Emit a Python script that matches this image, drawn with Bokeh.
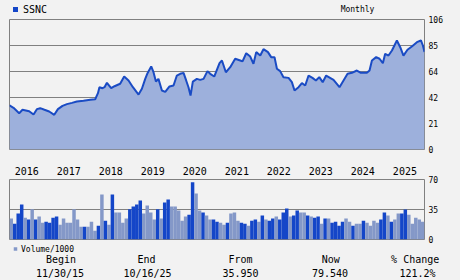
import pandas as pd
from bokeh.plotting import figure
from bokeh.layouts import column
from bokeh.models import Range1d, FixedTicker
from bokeh.core.properties import value
from bokeh.embed import file_html
from bokeh.resources import INLINE

symbol = "SSNC"
period = "Monthly"
begin_date = "2015-11-30"
end_date = "2025-10-16"

price_dates = [
    "2015-11-30", "2016-01-04", "2016-02-22", "2016-03-22", "2016-05-19", "2016-06-26",
    "2016-07-25", "2016-08-23", "2016-09-29", "2016-11-09", "2016-12-23", "2017-01-24",
    "2017-03-05", "2017-04-12", "2017-05-26", "2017-07-08", "2017-09-03", "2017-11-01",
    "2017-12-14", "2018-01-07", "2018-01-20", "2018-02-16", "2018-03-05", "2018-03-26",
    "2018-05-02", "2018-05-31", "2018-07-19", "2018-08-23", "2018-09-30", "2018-11-07",
    "2018-12-26", "2019-01-24", "2019-02-22", "2019-03-14", "2019-04-15", "2019-05-05",
    "2019-05-26", "2019-06-17", "2019-07-17", "2019-08-15", "2019-09-21", "2019-10-26",
    "2019-11-24", "2019-12-23", "2020-01-21", "2020-02-13", "2020-03-04", "2020-03-22",
    "2020-04-11", "2020-05-16", "2020-06-14", "2020-07-13", "2020-08-16", "2020-09-09",
    "2020-10-14", "2020-11-06", "2020-11-29", "2020-12-20", "2021-01-23", "2021-03-02",
    "2021-04-14", "2021-05-28", "2021-06-17", "2021-07-19", "2021-08-23", "2021-09-20",
    "2021-10-14", "2021-11-18", "2021-12-16", "2022-01-24", "2022-02-21", "2022-03-22",
    "2022-04-12", "2022-05-10", "2022-06-08", "2022-07-22", "2022-08-20", "2022-09-12",
    "2022-10-17", "2022-11-15", "2022-12-14", "2023-01-12", "2023-02-15", "2023-03-17",
    "2023-04-15", "2023-05-15", "2023-06-14", "2023-08-17", "2023-10-08", "2023-11-12",
    "2023-12-17", "2024-01-24", "2024-03-07", "2024-04-11", "2024-06-02", "2024-06-25",
    "2024-07-16", "2024-08-22", "2024-09-20", "2024-10-19", "2024-11-08", "2024-12-07",
    "2025-01-06", "2025-02-18", "2025-03-19", "2025-04-16", "2025-05-21", "2025-06-28",
    "2025-08-11", "2025-09-15", "2025-10-02", "2025-10-16",
]
price_values = [
    35.95, 34.0, 29.6, 32.4, 31.2, 28.5,
    32.9, 33.7, 32.4, 31.0, 28.3, 32.9,
    35.6, 37.0, 38.0, 39.1, 39.7, 40.5,
    41.0, 45.9, 50.8, 50.0, 50.8, 54.4,
    50.0, 51.6, 53.6, 59.5, 56.3, 50.8,
    44.8, 49.5, 57.6, 62.2, 67.7, 63.0,
    55.4, 57.6, 48.1, 47.0, 51.4, 52.2,
    60.3, 61.7, 62.5, 56.3, 50.8, 44.0,
    55.4, 57.6, 56.8, 57.6, 63.9, 61.7,
    59.5, 65.0, 70.4, 72.6, 63.0, 67.1,
    74.0, 72.6, 71.8, 78.5, 75.8, 69.9,
    79.4, 76.6, 81.8, 79.4, 75.3, 75.3,
    65.8, 63.9, 59.0, 58.4, 54.9, 48.1,
    50.8, 54.1, 52.2, 60.3, 58.4, 56.3,
    59.0, 54.9, 60.3, 56.8, 50.8, 56.3,
    61.7, 62.5, 64.4, 62.5, 62.5, 64.4,
    72.6, 75.3, 74.0, 70.4, 78.0, 76.6,
    80.7, 88.9, 83.4, 76.6, 81.3, 84.0,
    87.5, 88.9, 84.8, 79.54,
]

# monthly volume (thousands) and whether the bar is drawn dark (up) or light
volume_k = [
    24.4, 18.5, 30.2, 40.9, 25.5, 23.2, 35.4, 23.2, 26.7, 19.6,
    20.8, 19.6, 25.5, 26.7, 17.3, 24.4, 19.6, 19.6, 35.4, 23.2,
    14.9, 14.9, 14.9, 20.8, 10.2, 16.1, 52.6, 22.0, 17.3, 52.6,
    31.4, 31.4, 19.6, 24.4, 35.4, 38.5, 40.9, 45.6, 30.2, 39.7,
    31.4, 23.2, 35.4, 24.4, 43.2, 46.7, 38.5, 38.5, 33.8, 22.0,
    26.7, 29.0, 66.8, 53.8, 33.8, 31.4, 27.9, 23.2, 23.2, 20.8,
    19.6, 17.3, 19.6, 30.2, 31.4, 22.0, 19.6, 18.5, 16.1, 22.0,
    23.2, 20.8, 27.9, 23.2, 22.0, 24.4, 26.7, 23.2, 31.4, 36.1,
    26.7, 27.9, 33.8, 31.4, 31.4, 27.9, 26.7, 25.5, 26.7, 18.5,
    24.4, 24.4, 19.6, 20.8, 16.1, 20.8, 24.4, 20.8, 16.1, 18.5,
    18.5, 22.0, 19.6, 16.1, 22.0, 19.6, 23.2, 31.4, 27.9, 20.8,
    23.2, 30.2, 30.2, 35.0, 29.0, 18.5, 25.5, 23.2, 20.8,
]
volume_up = [
    0, 1, 1, 1, 0, 1, 0, 1, 0, 0,
    1, 1, 1, 1, 0, 0, 0, 0, 0, 0,
    0, 1, 0, 0, 0, 1, 0, 1, 0, 1,
    0, 0, 0, 0, 1, 1, 1, 1, 0, 0,
    0, 0, 1, 0, 1, 1, 0, 0, 0, 0,
    0, 1, 1, 0, 0, 1, 0, 0, 1, 1,
    0, 0, 1, 0, 0, 0, 1, 1, 0, 1,
    1, 0, 1, 0, 1, 1, 0, 1, 1, 1,
    0, 1, 1, 0, 0, 1, 0, 1, 1, 0,
    1, 0, 1, 1, 1, 1, 0, 0, 1, 0,
    0, 1, 0, 0, 0, 0, 1, 1, 0, 1,
    0, 0, 1, 1, 0, 0, 0, 0, 0,
]

price_ticks = [0, 21, 42, 64, 85, 106]
volume_ticks = [0, 35, 70]
year_labels = ["2016", "2017", "2018", "2019", "2020", "2021", "2022", "2023", "2024", "2025"]

footer_heads = ["Begin", "End", "From", "Now", "% Change"]
footer_values = ["11/30/15", "10/16/25", "35.950", "79.540", "121.2%"]

# ---- styling ----
BG = "#f2f2f2"
GRID = "#808080"
LINE = "#1a4bc4"
AREA = "#9db0dc"
DARK = "#1446c8"
LIGHT = "#8498c8"
MONO = "DejaVu Sans Mono"
W = 460


def ms(d):
    return pd.Timestamp(d).value / 1e6


x0, x1 = ms(begin_date), ms(end_date)
date_range = Range1d(x0, x1)


def strip(h):
    """A text-only band whose frame fills the band (pixel-like local coords)."""
    f = figure(width=W, height=h, x_axis_type=None, y_axis_type=None,
               x_range=Range1d(0, W), y_range=Range1d(h, 0),
               output_backend="svg", toolbar_location=None,
               min_border=0, min_border_left=0, min_border_right=0,
               min_border_top=0, min_border_bottom=0)
    f.frame_align = False
    f.background_fill_color = BG
    f.border_fill_color = BG
    f.outline_line_color = None
    return f


def style(p, ticks, grid_ticks):
    p.background_fill_color = BG
    p.border_fill_color = BG
    p.outline_line_color = GRID
    p.outline_line_width = 1
    ax = p.yaxis[0]
    ax.ticker = FixedTicker(ticks=ticks)
    ax.axis_line_color = None
    ax.major_tick_line_color = None
    ax.minor_tick_line_color = None
    ax.major_tick_out = 0
    ax.major_tick_in = 0
    ax.major_label_standoff = 4
    ax.major_label_text_font = MONO
    ax.major_label_text_font_size = "8px"
    ax.major_label_text_color = "#000000"
    p.ygrid.ticker = FixedTicker(ticks=grid_ticks)
    p.ygrid.grid_line_color = GRID
    p.ygrid.grid_line_width = 1


# ---- header band (legend + period) ----
head = strip(14)
head.rect(x=[15], y=[9], width=5, height=5, fill_color=DARK, line_color=None)
head.text(x=[22.5], y=[8.5], text=[symbol], text_font=value(MONO), text_font_size="10px",
          text_color="#000000", text_align="left", text_baseline="middle")
head.text(x=[357], y=[9], text=[period], text_font=value(MONO), text_font_size="8px",
          text_color="#000000", text_align="center", text_baseline="middle")

# ---- price panel ----
p1 = figure(width=W, height=141, x_axis_type=None, y_axis_location="right",
            x_range=date_range, y_range=Range1d(0, 106),
            output_backend="svg", toolbar_location=None,
            min_border_left=9, min_border_right=36, min_border_top=5, min_border_bottom=6)
dts = pd.to_datetime(price_dates)
p1.varea(x=dts, y1=0, y2=price_values, fill_color=AREA, fill_alpha=1)
p1.line(x=dts, y=price_values, line_color=LINE, line_width=2)
style(p1, price_ticks, price_ticks[1:-1])

# ---- year labels band ----
years = figure(width=W, height=20, x_axis_type=None, y_axis_type=None,
               x_range=date_range, y_range=Range1d(20, 0),
               output_backend="svg", toolbar_location=None,
               min_border_left=9, min_border_right=36, min_border_top=0, min_border_bottom=0)
years.background_fill_color = BG
years.border_fill_color = BG
years.outline_line_color = None
years.text(x=pd.to_datetime([f"{y}-01-01" for y in year_labels]), y=[15] * len(year_labels),
           text=year_labels, x_offset=1.5, text_font=value(MONO), text_font_size="10px",
           text_color="#000000", text_align="left", text_baseline="middle")

# ---- volume panel ----
n = len(volume_k)
p2 = figure(width=W, height=69, x_axis_type=None, y_axis_location="right",
            x_range=Range1d(0, n), y_range=Range1d(0, 70),
            output_backend="svg", toolbar_location=None,
            min_border_left=9, min_border_right=36, min_border_top=4, min_border_bottom=5)
bar_x = [i + 0.5 for i in range(n)]
bar_colors = [DARK if u else LIGHT for u in volume_up]
p2.vbar(x=bar_x, top=volume_k, width=1, fill_color=bar_colors, line_color=None)
style(p2, volume_ticks, [35])

# ---- footer band ----
foot = strip(36)
foot.rect(x=[15], y=[4.5], width=3.5, height=3.5, fill_color=LIGHT, line_color=None)
foot.text(x=[20.5], y=[5], text=["Volume/1000"], text_font=value(MONO), text_font_size="8px",
          text_color="#000000", text_align="left", text_baseline="middle")
head_x = [60.5, 146, 240, 330.3, 414.7]
val_x = [59.5, 147, 240, 329.5, 417]
foot.text(x=head_x, y=[15] * 5, text=footer_heads, text_font=value(MONO), text_font_size="10px",
          text_color="#000000", text_align="center", text_baseline="middle")
foot.text(x=val_x, y=[28.5] * 5, text=footer_values, text_font=value(MONO), text_font_size="10px",
          text_color="#000000", text_align="center", text_baseline="middle")

layout = column(head, p1, years, p2, foot, spacing=0, styles={"background-color": BG})
html = file_html(layout, INLINE)
html = html.replace("<body>", f'<body style="background-color:{BG};margin:0">', 1)
open("out.html", "w").write(html)
